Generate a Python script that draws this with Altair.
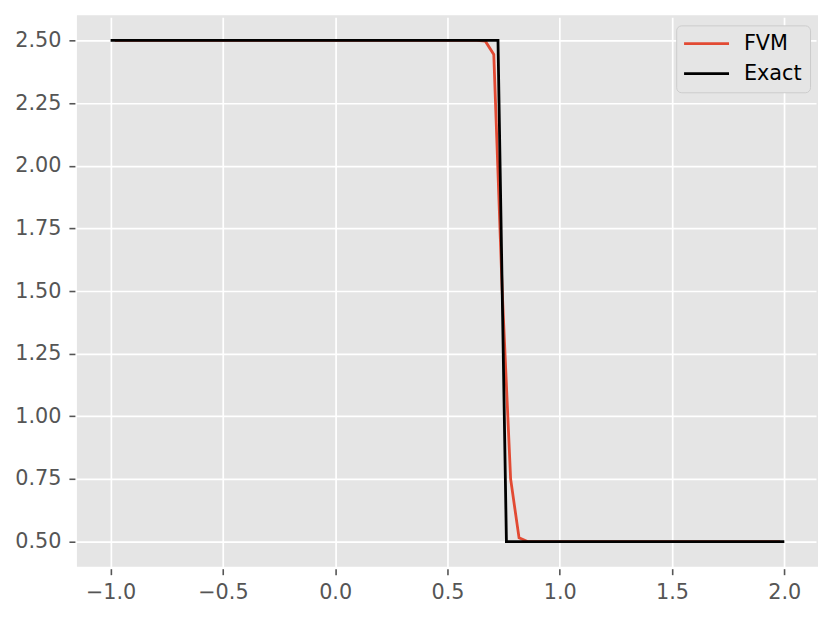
import altair as alt
import pandas as pd

# FVM solution (cell centres)
fvm_x = [-0.98125, 0.63125, 0.66875, 0.70625, 0.74375, 0.78125, 0.81875, 0.85625, 1.98125]
fvm_y = [2.5, 2.5, 2.497, 2.444, 1.50, 0.75, 0.515, 0.5, 0.5]

# Exact solution
exact_x = [-1.0, 0.725, 0.7625, 2.0]
exact_y = [2.5, 2.5, 0.5, 0.5]

x_ticks = [-1.0, -0.5, 0.0, 0.5, 1.0, 1.5, 2.0]
y_ticks = [0.5, 0.75, 1.0, 1.25, 1.5, 1.75, 2.0, 2.25, 2.5]

rows = []
for i, (x, y) in enumerate(zip(fvm_x, fvm_y)):
    rows.append({"x": x, "y": y, "series": "FVM", "order": i})
for i, (x, y) in enumerate(zip(exact_x, exact_y)):
    rows.append({"x": x, "y": y, "series": "Exact", "order": i})
df = pd.DataFrame(rows)

FONT = "DejaVu Sans"
FS = 20.8

chart = alt.Chart(df).mark_line(strokeWidth=2.8, clip=True).encode(
    x=alt.X("x:Q", scale=alt.Scale(domain=[-1.15, 2.15], nice=False, zero=False),
            axis=alt.Axis(values=x_ticks, format=".1f", title=None, labelPadding=8)),
    y=alt.Y("y:Q", scale=alt.Scale(domain=[0.4, 2.6], nice=False, zero=False),
            axis=alt.Axis(values=y_ticks, format=".2f", title=None, labelPadding=8)),
    color=alt.Color("series:N",
                    scale=alt.Scale(domain=["FVM", "Exact"], range=["#E24A33", "#000000"]),
                    legend=alt.Legend(title=None, orient="none", legendX=600, legendY=10,
                                      symbolType="M-1.4,0H4.6", symbolSize=225,
                                      symbolStrokeWidth=2.8, labelOffset=39,
                                      labelFontSize=FS, labelFont=FONT, labelColor="#000000",
                                      rowPadding=8, fillColor="#E5E5E5", strokeColor="#CCCCCC",
                                      cornerRadius=5, padding=8)),
    detail="series:N",
    order="order:Q",
).properties(
    width=742, height=552,
    autosize=alt.AutoSizeParams(type="none"),
    padding={"left": 69, "top": 7, "right": 8, "bottom": 43},
).configure_view(
    fill="#E5E5E5", stroke=None
).configure_axis(
    grid=True, gridColor="#FFFFFF", gridWidth=1.7,
    domain=False, tickColor="#555555", tickSize=6, tickWidth=1.6,
    offset=2, labelColor="#555555", labelFont=FONT, labelFontSize=FS,
)

chart.save("out.html", embed_options={"renderer": "svg", "actions": False})
